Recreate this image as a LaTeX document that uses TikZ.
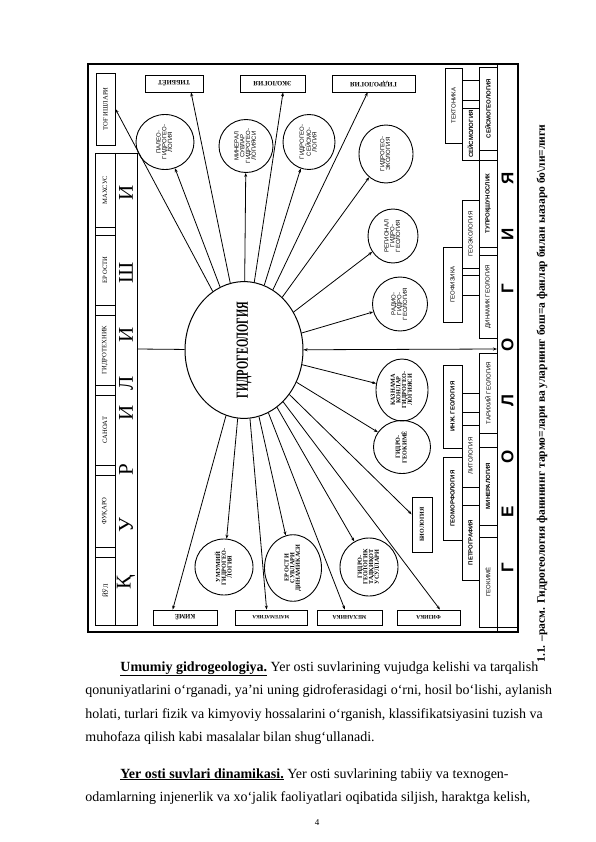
\documentclass[tikz,border=0pt]{standalone}
\usepackage{fontspec}
\setmainfont{Liberation Serif}
\newfontfamily\sansf{Liberation Sans}
\usepackage{graphicx}
\usetikzlibrary{shapes.geometric,arrows.meta,calc}
\newcommand{\rotv}[1]{\rotatebox{90}{#1}}
\newcommand{\roth}[1]{\rotatebox{180}{#1}}
\newcommand{\rotst}[1]{\rotatebox{90}{\renewcommand{\arraystretch}{0.8}\begin{tabular}{@{}c@{}}#1\end{tabular}}}
\begin{document}
\begin{tikzpicture}[x=1pt,y=-1pt,line width=0.8pt,
  bx/.style={draw,line width=0.8pt,inner sep=0pt,font=\fontsize{6.6}{7.5}\selectfont},
  bxb/.style={bx,font=\bfseries\fontsize{6}{7}\selectfont},
  tb/.style={bx,font=\bfseries\fontsize{6.6}{7.5}\selectfont},
  el/.style={ellipse,draw,line width=0.9pt,inner sep=0pt,font=\sansf\fontsize{6}{6.5}\selectfont},
  elb/.style={el,font=\bfseries\fontsize{6.2}{6.5}\selectfont},
  gb/.style={draw,line width=0.8pt,inner sep=0pt,font=\sansf\fontsize{6}{6.5}\selectfont},
  gbb/.style={gb,font=\sansf\bfseries\fontsize{6}{6.5}\selectfont},
  bigl/.style={font=\fontsize{21}{21}\selectfont,inner sep=0pt},
  geol/.style={font=\sansf\bfseries\fontsize{17}{17}\selectfont,inner sep=0pt},
  conn/.style={line width=0.8pt,-{Stealth[length=4pt,width=3pt]}},
  body/.style={anchor=base west,inner sep=0pt,font=\fontsize{14}{16}\selectfont}]
\useasboundingbox (0,0) rectangle (596,842);
% frame
\draw[line width=1.2pt] (88,64) rectangle (518,632);
% left column
\draw (95,153) rectangle (137,625);
\draw (115,153) -- (115,625);
\node[bx,minimum width=19,minimum height=72] (tog) at (105.5,109) {\rotv{ТОҒ ИШЛАРИ}};
\node[bx,minimum width=20,minimum height=74] (mahsus) at (105,190) {\rotv{МАХСУС}};
\node[bx,minimum width=20,minimum height=70] (erosti) at (105,270) {\rotv{ЕР ОСТИ}};
\node[bx,minimum width=20,minimum height=70] (gtex) at (105,350) {\rotv{ГИДРОТЕХНИК}};
\node[bx,minimum width=20,minimum height=70] (sanoat) at (105,430) {\rotv{САНОАТ}};
\node[bx,minimum width=20,minimum height=72] (fuqaro) at (105,511) {\rotv{ФУҚАРО}};
\node[bx,minimum width=20,minimum height=68] (yul) at (105,591) {\rotv{ЙЎЛ}};
\node[bigl] (l1) at (126,582) {\rotv{Қ}};
\node[bigl] (l2) at (126,525) {\rotv{У}};
\node[bigl] (l3) at (126,470) {\rotv{Р}};
\node[bigl] (l4) at (126,413) {\rotv{И}};
\node[bigl] (l5) at (126,383) {\rotv{Л}};
\node[bigl] (l6) at (126,335) {\rotv{И}};
\node[bigl] (l7) at (126,273) {\rotv{Ш}};
\node[bigl] (l8) at (126,193) {\rotv{И}};
% top row
\node[tb,minimum width=58,minimum height=17] (tib) at (174,83.5) {\roth{ТИББИЁТ}};
\node[tb,minimum width=65,minimum height=17] (eko) at (272.5,83.5) {\roth{ЭКОЛОГИЯ}};
\node[tb,minimum width=83,minimum height=17] (gidrol) at (373.5,83.5) {\roth{ГИДРОЛОГИЯ}};
% bottom row
\node[tb,minimum width=64,minimum height=15] (kime) at (185,617.5) {\roth{КИМЁ}};
\node[tb,minimum width=72,minimum height=15,font=\bfseries\fontsize{5}{6}\selectfont] (mat) at (271,617.5) {\roth{МАТЕМАТИКА}};
\node[tb,minimum width=65,minimum height=15,font=\bfseries\fontsize{5.6}{6}\selectfont] (mex) at (349.5,617.5) {\roth{МЕХАНИКА}};
\node[tb,minimum width=63,minimum height=15,font=\bfseries\fontsize{5.6}{6}\selectfont] (fiz) at (428.5,617.5) {\roth{ФИЗИКА}};
% central
\node[ellipse,draw,line width=1pt,minimum width=118,minimum height=124,inner sep=0pt] (gid) at (244,350)
  {\rotv{\scalebox{0.62}[1]{\bfseries\fontsize{17}{17}\selectfont ГИДРОГЕОЛОГИЯ}}};
% small ellipses
\node[el,minimum width=58,minimum height=55] (paleo) at (165,142) {\rotst{ПАЛЕО-\\ГИДРОГЕО-\\ЛОГИЯ}};
\node[el,minimum width=54,minimum height=53] (miner) at (246,146) {\rotst{МИНЕРАЛ\\СУВЛАР\\ГИДРОГЕО-\\ЛОГИЯСИ}};
\node[el,minimum width=52,minimum height=55] (seismo) at (309,142) {\rotst{ГИДРОГЕО-\\СЕЙСМО-\\ЛОГИЯ}};
\node[el,minimum width=54,minimum height=58] (gekol) at (386,154) {\rotst{ГИДРОГЕО-\\ЭКОЛОГИЯ}};
\node[el,minimum width=50,minimum height=54] (region) at (393,236) {\rotst{РЕГИОНАЛ\\ГИДРО-\\ГЕОЛОГИЯ}};
\node[el,minimum width=55,minimum height=54] (radio) at (400,304) {\rotst{РАДИО-\\ГИДРО-\\ГЕОЛОГИЯ}};
\node[elb,minimum width=52,minimum height=62] (kazn) at (402,390) {\rotst{КАЗНАМА\\КОНЛАР\\ГИДРОГЕО-\\ЛОГИЯСИ}};
\node[elb,minimum width=57,minimum height=53] (gkime) at (402,447) {\rotst{ГИДРО-\\ГЕОКИМЁ}};
\node[elb,minimum width=58,minimum height=56] (umum) at (224,567) {\rotst{УМУМИЙ\\ГИДРОГЕО-\\ЛОГИЯ}};
\node[elb,minimum width=57,minimum height=60] (dinam) at (293,568) {\rotst{ЕР ОСТИ\\СУВЛАРИ\\ДИНАМИКАСИ}};
\node[elb,minimum width=58,minimum height=58] (tadq) at (369,567) {\rotst{ГИДРО-\\ГЕОЛОГИК\\ТАДҚИҚОТ\\УСУЛЛАРИ}};
\node[bxb,minimum width=20,minimum height=55] (biol) at (422,524.5) {\rotv{БИОЛОГИЯ}};
% geology columns
\node[gb,minimum width=17,minimum height=75] (tekt) at (453.5,105.5) {\rotv{ТЕКТОНИКА}};
\node[gb,minimum width=19,minimum height=75] (geofiz) at (452.5,284.5) {\rotv{ГЕОФИЗИКА}};
\node[gbb,minimum width=19,minimum height=83] (inj) at (452.5,406.5) {\rotv{ИНЖ. ГЕОЛОГИЯ}};
\node[gbb,minimum width=19,minimum height=83] (gmorf) at (452.5,498.5) {\rotv{ГЕОМОРФОЛОГИЯ}};
\node[gbb,minimum width=17,minimum height=52] (seism) at (470.5,134) {\rotv{СЕЙСМОЛОГИЯ}};
\node[gb,minimum width=17,minimum height=68] (geoeko) at (470.5,234) {\rotv{ГЕОЭКОЛОГИЯ}};
\node[gb,minimum width=17,minimum height=62] (lito) at (470.5,456) {\rotv{ЛИТОЛОГИЯ}};
\node[gbb,minimum width=17,minimum height=75] (petro) at (470.5,542.5) {\rotv{ПЕТРОГРАФИЯ}};
\node[gbb,minimum width=18,minimum height=83] (sgeol) at (488,108.5) {\rotv{СЕЙСМОГЕОЛОГИЯ}};
\node[gbb,minimum width=18,minimum height=87] (tupr) at (488,203.5) {\rotv{ТУПРОҚШУНОСЛИК}};
\node[gb,minimum width=18,minimum height=83] (dingeo) at (488,296.5) {\rotv{ДИНАМИК ГЕОЛОГИЯ}};
\node[gb,minimum width=18,minimum height=80] (tarix) at (488,393) {\rotv{ТАРИХИЙ ГЕОЛОГИЯ}};
\node[gbb,minimum width=18,minimum height=78] (minera) at (488,486) {\rotv{МИНЕРАЛОГИЯ}};
\node[gb,minimum width=18,minimum height=90] (gkim) at (488,582) {\rotv{ГЕОКИМЁ}};
% tabs
\draw (462,80) -- (479,80) (462,100) -- (479,100);
\draw (462,275) -- (479,275) (462,295) -- (479,295);
\draw (462,393) -- (479,393) (462,412) -- (479,412);
% geology band
\draw (497,64) -- (497,632);
\draw (479,627) -- (518,627);
\node[geol] (g1) at (507.5,568) {\rotv{Г}};
\node[geol] (g2) at (507.5,512) {\rotv{Е}};
\node[geol] (g3) at (507.5,457) {\rotv{О}};
\node[geol] (g4) at (507.5,401) {\rotv{Л}};
\node[geol] (g5) at (507.5,345) {\rotv{О}};
\node[geol] (g6) at (507.5,289) {\rotv{Г}};
\node[geol] (g7) at (507.5,234) {\rotv{И}};
\node[geol] (g8) at (507.5,178) {\rotv{Я}};
% connectors
\coordinate (lb) at (137,349);
\coordinate (rb) at (497,349);
\draw (lb) -- (gid);
\draw[{Stealth[length=4pt,width=3pt]}-{Stealth[length=4pt,width=3pt]}] (gid) -- (rb);
\draw[conn] (gid) -- (tog.east);
\draw[conn] (gid) -- ($(tib.south west)!0.79!(tib.south east)$);
\draw[conn] (gid) -- (paleo);
\draw[conn] (gid) -- (miner);
\draw[conn] (gid) -- ($(eko.south west)!0.66!(eko.south east)$);
\draw[conn] (gid) -- (seismo);
\draw[conn] (gid) -- ($(gidrol.south west)!0.43!(gidrol.south east)$);
\draw[conn] (gid) -- (gekol);
\draw[conn] (gid) -- (region);
\draw[conn] (gid) -- (radio);
\draw[conn] (gid) -- (kazn);
\draw[conn] (gid) -- (gkime);
\draw[conn] (gid) -- (biol);
\draw[conn] (gid) -- ($(kime.north west)!0.31!(kime.north east)$);
\draw[conn] (gid) -- (umum);
\draw[conn] (gid) -- ($(mat.north west)!0.44!(mat.north east)$);
\draw[conn] (gid) -- (dinam);
\draw[conn] (gid) -- ($(mex.north west)!0.43!(mex.north east)$);
\draw[conn] (gid) -- (tadq);
\draw[conn] (gid) -- ($(fiz.north west)!0.68!(fiz.north east)$);
% caption
\node[anchor=west,rotate=90,inner sep=0pt,font=\bfseries\fontsize{11.5}{12}\selectfont] (cap) at (542,663)
  {1.1. –расм. Гидрогеология фанининг тармо=лари ва уларнинг бош=а фанлар билан ыазаро бо\textbackslash ли=лиги};
% body text
\node[body] (p1) at (120,671) {\textbf{\underline{Umumiy gidrogeologiya.}} Yer osti suvlarining vujudga kelishi va tarqalish};
\node[body] (p2) at (85,694.5) {qonuniyatlarini o‘rganadi, ya’ni uning gidroferasidagi o‘rni, hosil bo‘lishi, aylanish};
\node[body] (p3) at (85,718) {holati, turlari fizik va kimyoviy hossalarini o‘rganish, klassifikatsiyasini tuzish va};
\node[body] (p4) at (85,741.5) {muhofaza qilish kabi masalalar bilan shug‘ullanadi.};
\node[body] (p5) at (120,778) {\textbf{\underline{Yer osti suvlari dinamikasi.}} Yer osti suvlarining tabiiy va texnogen-};
\node[body] (p6) at (85,801.5) {odamlarning injenerlik va xo‘jalik faoliyatlari oqibatida siljish, haraktga kelish,};
\node[inner sep=0pt,font=\fontsize{9}{10}\selectfont] (pg) at (317,823) {4};
\end{tikzpicture}
\end{document}
